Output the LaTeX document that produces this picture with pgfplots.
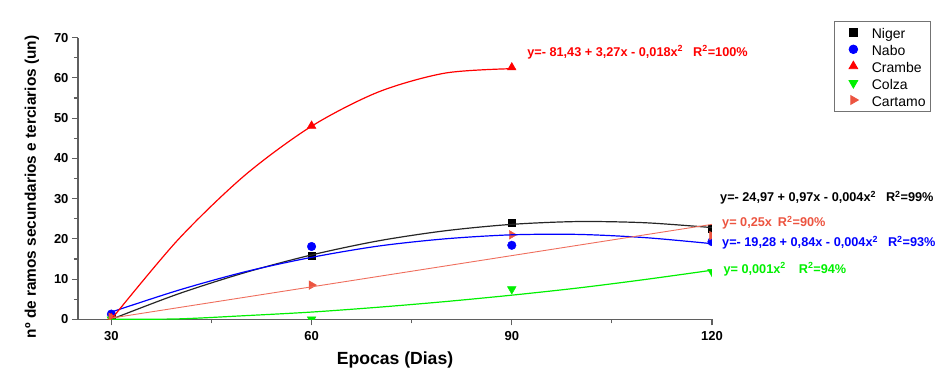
\documentclass[border=0pt]{standalone}
\usepackage{pgfplots}
\pgfplotsset{compat=1.18}
\usepackage{fontspec}
\setmainfont{Liberation Sans}

\definecolor{cNiger}{RGB}{0,0,0}
\definecolor{cNabo}{RGB}{0,0,255}
\definecolor{cCrambe}{RGB}{255,0,0}
\definecolor{cColza}{RGB}{0,240,0}
\definecolor{cCartamo}{RGB}{236,84,64}
\definecolor{axisgray}{RGB}{95,95,95}

\newcommand{\eqfont}{\bfseries\fontsize{12.7}{14}\selectfont}

\begin{document}
\begin{tikzpicture}
\path[use as bounding box] (-78pt,-68.7pt) rectangle (869pt,319.3pt);
\begin{axis}[
  scale only axis, width=634pt, height=281.6pt,
  xmin=25, xmax=120, ymin=0, ymax=70,
  axis lines*=left,
  axis line style={draw=axisgray, line width=1.3pt},
  xtick={30,60,90,120}, minor xtick={45,75,105},
  ytick={0,10,...,70}, minor ytick={5,15,...,65},
  tick align=outside,
  tick style={draw=axisgray, line width=1.1pt},
  major tick length=6pt, minor tick length=4pt,
  tick label style={font=\bfseries\fontsize{13}{15}\selectfont},
  xticklabel style={yshift=-3pt},
  /pgf/number format/assume math mode=true,
  xlabel={Epocas (Dias)},
  ylabel={nº de ramos secundarios e terciarios (un)},
  xlabel style={font=\bfseries\fontsize{17.6}{19}\selectfont, at={(axis description cs:0.5,-0.145)}, anchor=center},
  ylabel style={font=\bfseries\fontsize{15.4}{17}\selectfont, at={(axis description cs:-0.0726,0.47)}, anchor=center},
  clip mode=individual, clip marker paths=true,
  legend style={at={(rel axis cs:1.1924,1.0593)}, anchor=north west,
    draw=black!55, line width=0.8pt, fill=white,
    font=\fontsize{14}{16}\selectfont,
    inner xsep=3pt, inner ysep=3pt, row sep=0.9pt,
    nodes={inner sep=1.5pt, text height=13pt, text depth=0pt}},
  legend cell align=left,
  legend image code/.code={\path[draw=none,fill=none] (0pt,0pt) -- (33pt,0pt); \draw[#1] plot coordinates {(16pt,0pt)};},
]

% measured values
\addplot[only marks, mark=square*, mark size=3.6pt, draw=cNiger, fill=cNiger]
  coordinates {(30,0.3) (60,15.8) (90,24.0) (120,22.6)};
\addlegendentry{Niger}
\addplot[only marks, mark=*, mark size=4.3pt, draw=cNabo, fill=cNabo]
  coordinates {(30,1.3) (60,18.1) (90,18.4) (120,19.3)};
\addlegendentry{Nabo}
\addplot[only marks, mark=triangle*, mark size=5pt, draw=cCrambe, fill=cCrambe]
  coordinates {(30,0.3) (60,48.1) (90,62.6)};
\addlegendentry{Crambe}
\addplot[only marks, mark=triangle*, mark options={rotate=180}, mark size=5pt, draw=cColza, fill=cColza]
  coordinates {(30,0) (60,0) (90,7.5) (120,11.8)};
\addlegendentry{Colza}
\addplot[only marks, mark=triangle*, mark options={rotate=-90}, mark size=5pt, draw=cCartamo, fill=cCartamo]
  coordinates {(30,0.5) (60,8.5) (90,21.0) (120,20.8)};
\addlegendentry{Cartamo}

% fitted curves
\addplot[forget plot, smooth, no marks, draw=black!85, line width=1.2pt]
  coordinates {(30,0) (40,6.3) (50,11.6) (60,16.0) (70,19.5) (80,22.0) (90,23.6) (100,24.3) (110,24.0) (120,22.8)};
\addplot[forget plot, smooth, no marks, draw=cNabo, line width=1.2pt]
  coordinates {(30,1.8) (40,7.2) (50,11.8) (60,15.4) (70,18.2) (80,20.0) (90,21.0) (100,21.1) (110,20.3) (120,18.8)};
\addplot[forget plot, smooth, no marks, draw=cCrambe, line width=1.2pt]
  coordinates {(30,0) (40,19.8) (50,35.8) (60,48.0) (70,56.5) (80,61.2) (90,62.3)};
\addplot[forget plot, smooth, no marks, draw=cColza, line width=1.2pt]
  coordinates {(30,0) (40,0.1) (50,0.9) (60,1.8) (70,3.0) (80,4.4) (90,6.0) (100,7.8) (110,9.9) (120,12.2)};
\addplot[forget plot, no marks, draw=cCartamo!85!white, line width=0.9pt]
  coordinates {(30,0.3) (120,23.6)};

% regression equations
\tikzset{eq/.style={anchor=base west, inner sep=0pt, font=\eqfont}}
\node[eq, text=cCrambe] at (axis cs:92.3,65.4)
  {y=- 81,43 + 3,27x - 0,018x\textsuperscript{2}\hspace{10pt}R\textsuperscript{2}=100\%};
\node[eq, text=cNiger] at (axis cs:121.2,29.2)
  {y=- 24,97 + 0,97x - 0,004x\textsuperscript{2}\hspace{10pt}R\textsuperscript{2}=99\%};
\node[eq, text=cCartamo] at (axis cs:121.5,23.0)
  {y= 0,25x\hspace{6pt}R\textsuperscript{2}=90\%};
\node[eq, text=cNabo] at (axis cs:121.5,18.05)
  {y=- 19,28 + 0,84x - 0,004x\textsuperscript{2}\hspace{10pt}R\textsuperscript{2}=93\%};
\node[eq, text=cColza] at (axis cs:121.7,11.43)
  {y= 0,001x\textsuperscript{2}\hspace{13pt}R\textsuperscript{2}=94\%};
\end{axis}
\end{tikzpicture}
\end{document}
